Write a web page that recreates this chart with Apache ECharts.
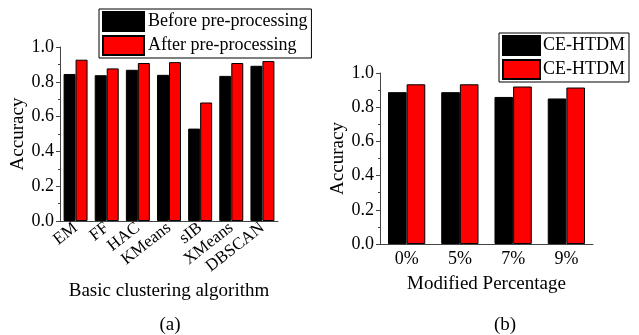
<!DOCTYPE html>
<html>
<head>
<meta charset="utf-8">
<script src="https://cdn.jsdelivr.net/npm/echarts@6/dist/echarts.min.js"></script>
<style>
  html, body { margin: 0; padding: 0; background: #fff; }
  #chart { width: 639px; height: 335px; }
</style>
</head>
<body>
<div id="chart"></div>
<script>
// panel (a)
const algorithms = ['EM', 'FF', 'HAC', 'KMeans', 'sIB', 'XMeans', 'DBSCAN'];
const beforeVals = [0.845, 0.838, 0.869, 0.840, 0.531, 0.834, 0.892];
const afterVals = [0.927, 0.877, 0.908, 0.913, 0.681, 0.908, 0.919];
const legendA = ['Before pre-processing', 'After pre-processing'];

// panel (b)
const percents = ['0%', '5%', '7%', '9%'];
const seriesB1 = [0.888, 0.888, 0.860, 0.851];
const seriesB2 = [0.934, 0.934, 0.921, 0.915];
const legendB = ['CE-HTDM', 'CE-HTDM'];

const yTicks = [0, 0.2, 0.4, 0.6, 0.8, 1.0];

const FONT = 'Liberation Serif';
const chart = echarts.init(document.getElementById('chart'));

function yAxisCfg(gridIndex, gap) {
  return {
    gridIndex: gridIndex,
    type: 'value',
    min: yTicks[0],
    max: yTicks[yTicks.length - 1],
    interval: 0.2,
    name: 'Accuracy',
    nameLocation: 'middle',
    nameGap: gap,
    nameTextStyle: { fontFamily: FONT, fontSize: 19, color: '#000' },
    axisLine: { show: true, lineStyle: { color: '#444', width: 1 } },
    axisTick: { show: true, length: 4, lineStyle: { color: '#444' } },
    minorTick: { show: true, splitNumber: 2, length: 2, lineStyle: { color: '#444' } },
    splitLine: { show: false },
    axisLabel: {
      fontFamily: FONT, fontSize: 18, color: '#000', margin: 6,
      formatter: v => v.toFixed(1)
    }
  };
}

const option = {
  backgroundColor: '#fff',
  animation: false,
  title: [
    { text: '(a)', left: 165, top: 311, textAlign: 'center',
      textStyle: { fontFamily: FONT, fontSize: 19, fontWeight: 'normal', color: '#000' } },
    { text: '(b)', left: 500, top: 311, textAlign: 'center',
      textStyle: { fontFamily: FONT, fontSize: 19, fontWeight: 'normal', color: '#000' } }
  ],
  legend: [
    {
      data: legendA,
      orient: 'vertical',
      left: 99, top: 9,
      padding: [2, 4, 2, 3],
      itemGap: 3,
      icon: 'rect',
      itemWidth: 41, itemHeight: 19,
      borderColor: '#000', borderWidth: 1,
      textStyle: { fontFamily: FONT, fontSize: 18, color: '#000', padding: [0, 0, 0, -1] },
      selectedMode: false
    },
    {
      data: ['b1', 'b2'],
      formatter: n => legendB[n === 'b1' ? 0 : 1],
      orient: 'vertical',
      left: 499, top: 33,
      padding: [2, 4, 2, 3],
      itemGap: 3,
      icon: 'rect',
      itemWidth: 37, itemHeight: 19,
      borderColor: '#000', borderWidth: 1,
      textStyle: { fontFamily: FONT, fontSize: 18, color: '#000', padding: [0, 0, 0, -2] },
      selectedMode: false
    }
  ],
  grid: [
    { left: 60, top: 47, width: 218, height: 174 },
    { left: 380, top: 73, width: 213, height: 171 }
  ],
  xAxis: [
    {
      gridIndex: 0,
      type: 'category',
      data: algorithms,
      name: 'Basic clustering algorithm',
      nameLocation: 'middle',
      nameGap: 48,
      nameTextStyle: { fontFamily: FONT, fontSize: 19, color: '#000' },
      axisLine: { lineStyle: { color: '#444' } },
      axisTick: { alignWithLabel: true, length: 4, lineStyle: { color: '#444' } },
      axisLabel: { fontFamily: FONT, fontSize: 17, color: '#000', rotate: 38, margin: 5, interval: 0 }
    },
    {
      gridIndex: 1,
      type: 'category',
      data: percents,
      name: 'Modified Percentage',
      nameLocation: 'middle',
      nameGap: 31,
      nameTextStyle: { fontFamily: FONT, fontSize: 19, color: '#000' },
      axisLine: { lineStyle: { color: '#444' } },
      axisTick: { alignWithLabel: true, length: 4, lineStyle: { color: '#444' } },
      axisLabel: { fontFamily: FONT, fontSize: 18, color: '#000', margin: 6 }
    }
  ],
  yAxis: [yAxisCfg(0, 31), yAxisCfg(1, 24)],
  series: [
    {
      name: legendA[0], type: 'bar', xAxisIndex: 0, yAxisIndex: 0,
      data: beforeVals, barGap: '0%', barCategoryGap: '23%',
      itemStyle: { color: '#000', borderColor: '#000', borderWidth: 1 }
    },
    {
      name: legendA[1], type: 'bar', xAxisIndex: 0, yAxisIndex: 0,
      data: afterVals, barGap: '0%', barCategoryGap: '23%',
      itemStyle: { color: '#ff0000', borderColor: '#000', borderWidth: 1 }
    },
    {
      name: 'b1', type: 'bar', xAxisIndex: 1, yAxisIndex: 1,
      data: seriesB1, barGap: '0%', barCategoryGap: '30%',
      itemStyle: { color: '#000', borderColor: '#000', borderWidth: 1 }
    },
    {
      name: 'b2', type: 'bar', xAxisIndex: 1, yAxisIndex: 1,
      data: seriesB2, barGap: '0%', barCategoryGap: '30%',
      itemStyle: { color: '#ff0000', borderColor: '#000', borderWidth: 1 }
    }
  ]
};

chart.setOption(option);
</script>
</body>
</html>
